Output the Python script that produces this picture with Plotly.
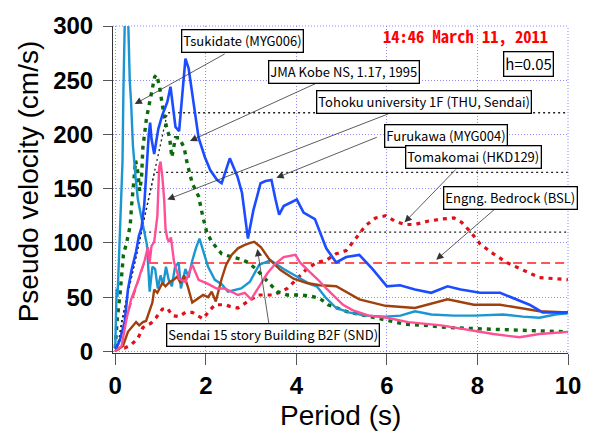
import plotly.graph_objects as go

# ---- response spectra (h = 0.05): period [s] vs pseudo velocity [cm/s] ----
T_tsukidate = [0.00, 0.02, 0.03, 0.05, 0.07, 0.10, 0.13, 0.16, 0.18, 0.20, 0.23, 0.27, 0.29, 0.32,
               0.35, 0.39, 0.45, 0.50, 0.57, 0.64, 0.70, 0.76, 0.82, 0.88, 0.94, 1.00, 1.06, 1.12,
               1.18, 1.25, 1.32, 1.40, 1.45, 1.55, 1.62, 1.69, 1.78, 1.86, 1.95, 2.05, 2.20, 2.35,
               2.49, 2.65, 2.78, 2.97, 3.18, 3.43, 3.72, 4.01, 4.30, 4.45, 4.66, 4.88, 5.16, 5.53,
               5.97, 6.30, 6.62, 6.98, 7.48, 7.92, 8.57, 9.00, 9.37, 9.72, 10.00]
V_tsukidate = [3, 40, 58, 50, 75, 100, 130, 175, 240, 310, 345, 330, 290, 250,
               229, 190, 160, 140, 125, 112, 98, 55, 78, 76, 58, 70, 62, 78,
               66, 60, 78, 82, 58, 76, 68, 82, 95, 104, 92, 78, 66, 62,
               55, 57, 58, 64, 80, 84, 76, 69, 62, 60, 49, 40, 36, 33,
               32, 33, 37, 34, 33, 33, 34, 32, 31, 34, 35]

T_kobe = [0.00, 0.04, 0.11, 0.18, 0.25, 0.33, 0.36, 0.40, 0.45, 0.50, 0.54, 0.58, 0.61, 0.69,
          0.80, 0.87, 0.91, 0.97, 1.04, 1.12, 1.20, 1.25, 1.33, 1.41, 1.52, 1.59, 1.70, 1.84,
          1.93, 2.02, 2.13, 2.35, 2.57, 2.78, 2.93, 3.11, 3.26, 3.40, 3.58, 3.80, 4.08, 4.30,
          4.51, 4.70, 4.88, 5.16, 5.53, 5.97, 6.40, 6.83, 7.34, 7.92, 8.50, 9.10, 10.00]
V_kobe = [3, 28, 55, 89, 100, 116, 134, 155, 176, 165, 148, 160, 188, 215,
          240, 253, 255, 246, 227, 209, 197, 179, 197, 197, 188, 173, 155, 143,
          125, 110, 101, 90, 87, 85, 82, 76, 69, 63, 55, 52, 52, 51,
          49, 43, 40, 36, 33, 29, 25, 24, 22, 21, 20, 19, 18]

T_tohoku = [0.00, 0.14, 0.25, 0.35, 0.46, 0.57, 0.65, 0.72, 0.76, 0.80, 0.86, 0.93, 0.97, 1.00,
            1.04, 1.08, 1.11, 1.15, 1.19, 1.23, 1.30, 1.41, 1.55, 1.70, 1.78, 1.84, 2.06, 2.24,
            2.42, 2.57, 2.71, 2.86, 3.00, 3.18, 3.36, 3.54, 3.72, 3.98, 4.08, 4.30, 4.48, 4.66,
            4.85, 5.03, 5.24, 5.60, 6.00, 6.47, 7.20, 7.92, 8.35, 8.93, 9.37, 10.00]
V_tohoku = [0, 5, 30, 48, 60, 75, 84, 96, 82, 97, 101, 125, 170, 175,
            161, 140, 113, 104, 101, 105, 82, 67, 64, 80, 71, 66, 62, 58,
            58, 55, 52, 54, 48, 60, 72, 81, 87, 89, 82, 73, 66, 58,
            50, 43, 38, 33, 31, 27, 24, 19, 16, 13, 16, 18]

T_furukawa = [0.00, 0.10, 0.21, 0.28, 0.36, 0.46, 0.52, 0.58, 0.64, 0.69, 0.74, 0.77, 0.80, 0.86,
              0.95, 1.04, 1.15, 1.22, 1.27, 1.33, 1.41, 1.48, 1.55, 1.62, 1.73, 1.84, 1.98, 2.10,
              2.25, 2.35, 2.53, 2.70, 2.80, 2.93, 3.05, 3.21, 3.32, 3.45, 3.54, 3.62, 3.72, 4.01,
              4.16, 4.41, 4.66, 4.88, 5.10, 5.39, 5.68, 6.00, 6.29, 6.62, 6.98, 7.34, 7.63, 8.06,
              8.50, 8.79, 9.15, 9.44, 9.72, 10.00]
V_furukawa = [2, 10, 28, 57, 75, 92, 106, 114, 135, 170, 200, 211, 196, 182,
              205, 218, 230, 244, 225, 207, 203, 240, 270, 261, 228, 197, 179, 167,
              158, 155, 178, 161, 146, 104, 130, 155, 157, 158, 140, 126, 134, 140,
              128, 122, 95, 82, 87, 89, 76, 60, 61, 57, 54, 60, 57, 54,
              54, 49, 43, 36, 36, 36]

T_tomakomai = [0.00, 0.20, 0.35, 0.50, 0.61, 0.79, 0.90, 1.04, 1.15, 1.26, 1.41, 1.55, 1.70, 1.84,
               1.94, 2.05, 2.20, 2.42, 2.57, 2.71, 2.93, 3.15, 3.35, 3.51, 3.80, 4.01, 4.23, 4.45,
               4.66, 4.88, 5.10, 5.31, 5.53, 5.75, 5.97, 6.18, 6.40, 6.62, 6.90, 7.20, 7.48, 7.65,
               7.85, 8.06, 8.35, 8.64, 9.00, 9.37, 9.73, 10.00]
V_tomakomai = [2, 3, 6, 12, 22, 26, 31, 39, 40, 33, 32, 36, 36, 32,
               30, 36, 43, 43, 41, 40, 46, 52, 52, 52, 58, 67, 76, 82,
               84, 90, 93, 104, 116, 123, 125, 120, 117, 117, 120, 122, 123, 119,
               110, 99, 90, 82, 75, 68, 67, 66]

T_sendai = [0.00, 0.17, 0.28, 0.39, 0.46, 0.53, 0.61, 0.68, 0.75, 0.82, 0.86, 0.93, 1.04, 1.11,
            1.20, 1.29, 1.37, 1.44, 1.52, 1.60, 1.70, 1.80, 1.94, 2.05, 2.13, 2.22, 2.35, 2.45,
            2.57, 2.71, 2.85, 2.98, 3.07, 3.22, 3.40, 3.65, 3.94, 4.23, 4.52, 4.88, 5.39, 5.97,
            6.62, 7.34, 7.92, 8.50, 8.93, 9.37, 10.00]
V_sendai = [0, 5, 18, 24, 27, 24, 27, 28, 36, 45, 57, 54, 63, 60,
            64, 66, 69, 63, 70, 60, 45, 48, 52, 50, 55, 46, 67, 80,
            89, 95, 98, 100, 101, 96, 85, 75, 67, 63, 61, 60, 48, 42,
            40, 48, 43, 43, 40, 37, 36]

# ---- design spectra (breakpoints) ----
T_bsl = [0.00, 0.08, 0.16, 0.64, 10.00]
V_bsl = [0.0, 7.1, 20.4, 81.5, 81.5]

T_soil1 = [0.00, 0.08, 0.16, 0.576, 10.00]
V_soil1 = [0.0, 10.7, 30.6, 110.0, 110.0]
T_soil2 = [0.00, 0.08, 0.16, 0.864, 10.00]
V_soil2 = [0.0, 10.7, 30.6, 165.0, 165.0]
T_soil3 = [0.00, 0.08, 0.16, 1.152, 10.00]
V_soil3 = [0.0, 10.7, 30.6, 220.0, 220.0]

# ---- labels: (text, box centre T, box centre V, arrow tail T, V, arrow head T, V) ----
labels = [
    ("Tsukidate (MYG006)", 2.82, 286.5, 2.45, 275.0, 0.43, 228.0),
    ("JMA Kobe NS, 1.17, 1995", 5.05, 257.5, 4.48, 248.0, 1.65, 194.0),
    ("Tohoku university 1F (THU, Sendai)", 6.82, 229.8, 6.07, 219.6, 1.15, 140.0),
    ("Furukawa (MYG004)", 7.30, 198.5, 5.81, 198.0, 3.56, 160.0),
    ("Tomakomai (HKD129)", 7.92, 179.0, 7.55, 169.0, 6.39, 119.0),
    ("Engng. Bedrock (BSL)", 8.72, 141.6, 8.42, 132.5, 7.09, 84.4),
    ("Sendai 15 story Building B2F (SND)", 3.48, 15.0, 3.40, 23.6, 3.14, 94.4),
]

fig = go.Figure()

for tx, vy in [(T_soil1, V_soil1), (T_soil2, V_soil2), (T_soil3, V_soil3)]:
    fig.add_trace(go.Scatter(x=tx, y=vy, mode="lines",
                             line=dict(color="#222222", width=1.3, dash="2px,3px")))

fig.add_trace(go.Scatter(x=T_bsl, y=V_bsl, mode="lines",
                         line=dict(color="#ff1e1e", width=1.6, dash="9px,5px")))
fig.add_trace(go.Scatter(x=T_tomakomai, y=V_tomakomai, mode="lines",
                         line=dict(color="#e0101a", width=3.2, dash="4px,5px")))
fig.add_trace(go.Scatter(x=T_kobe, y=V_kobe, mode="lines",
                         line=dict(color="#0b6a0b", width=3.4, dash="4px,5px")))
fig.add_trace(go.Scatter(x=T_tsukidate, y=V_tsukidate, mode="lines",
                         line=dict(color="#1a96d2", width=2.4)))
fig.add_trace(go.Scatter(x=T_sendai, y=V_sendai, mode="lines",
                         line=dict(color="#a0400c", width=2.4)))
fig.add_trace(go.Scatter(x=T_furukawa, y=V_furukawa, mode="lines",
                         line=dict(color="#1c4cff", width=2.6)))
fig.add_trace(go.Scatter(x=T_tohoku, y=V_tohoku, mode="lines",
                         line=dict(color="#ff4f96", width=2.4)))

label_family = "Noto Sans CJK JP, Liberation Sans, sans-serif"
label_font = dict(family=label_family, size=13, color="#000000")


def boxed(text, x, y, font):
    """White text box with a thin black frame."""
    return dict(x=x, y=y, xref="x", yref="y", text=text, showarrow=False,
                font=font, bgcolor="#ffffff", bordercolor="#000000",
                borderwidth=1.3, borderpad=1, xanchor="center", yanchor="middle")


annotations = []
for text, bx, by, tx, ty, hx, hy in labels:
    annotations.append(dict(x=hx, y=hy, xref="x", yref="y", ax=tx, ay=ty, axref="x", ayref="y",
                            text="", showarrow=True, arrowhead=2, arrowsize=1.8,
                            arrowwidth=0.8, arrowcolor="#333333", standoff=0))
for text, bx, by, tx, ty, hx, hy in labels:
    annotations.append(boxed(text, bx, by, label_font))

annotations.append(boxed("h=0.05", 9.13, 265.0, dict(family=label_family, size=15, color="#000000")))
annotations.append(dict(x=7.74, y=291.0, xref="x", yref="y", text="14:46 March 11, 2011",
                        showarrow=False, xanchor="center", yanchor="middle",
                        font=dict(family="Noto Sans Mono CJK JP, Liberation Mono, monospace",
                                  size=16.5, color="#ff0000", weight="bold")))
annotations.append(dict(x=-0.1853, y=0.524, xref="paper", yref="paper", text="Pseudo velocity (cm/s)",
                        showarrow=False, textangle=-90, xanchor="center", yanchor="middle",
                        font=dict(family="Liberation Sans, Arial, sans-serif", size=28, color="#000000")))
annotations.append(dict(x=0.5, y=-0.192, xref="paper", yref="paper", text="Period (s)",
                        showarrow=False, xanchor="center", yanchor="middle",
                        font=dict(family="Liberation Sans, Arial, sans-serif", size=28, color="#000000")))

tick_font = dict(family="Liberation Sans, Arial, sans-serif", size=24, color="#000000", weight="bold")
grid_style = dict(showgrid=True, gridcolor="#8c8cff", gridwidth=1, griddash="1px,2px", zeroline=False)

fig.update_layout(
    width=593, height=432,
    margin=dict(l=113, r=16, t=20, b=79),
    paper_bgcolor="#ffffff", plot_bgcolor="#ffffff",
    showlegend=False,
    annotations=annotations,
    xaxis=dict(range=[-0.05, 10.0], tickvals=[0, 2, 4, 6, 8, 10], ticks="outside", ticklen=11,
               tickcolor="#555555", tickwidth=1, showline=True, linecolor="#333333", linewidth=1,
               tickfont=tick_font, **grid_style),
    yaxis=dict(range=[-1.5, 300.0], tickvals=[0, 50, 100, 150, 200, 250, 300], ticks="outside",
               ticklen=9, tickcolor="#555555", tickwidth=1, showline=True, linecolor="#333333",
               linewidth=1, tickfont=tick_font, ticklabelstandoff=5, **grid_style),
)

# dotted frame on the top and right edges
fig.add_shape(type="line", xref="paper", yref="paper", x0=0, x1=1, y0=1, y1=1,
              line=dict(color="#8c8cff", width=1, dash="1px,2px"))
fig.add_shape(type="line", xref="paper", yref="paper", x0=1, x1=1, y0=0, y1=1,
              line=dict(color="#8c8cff", width=1, dash="1px,2px"))

fig.write_html("out.html")
